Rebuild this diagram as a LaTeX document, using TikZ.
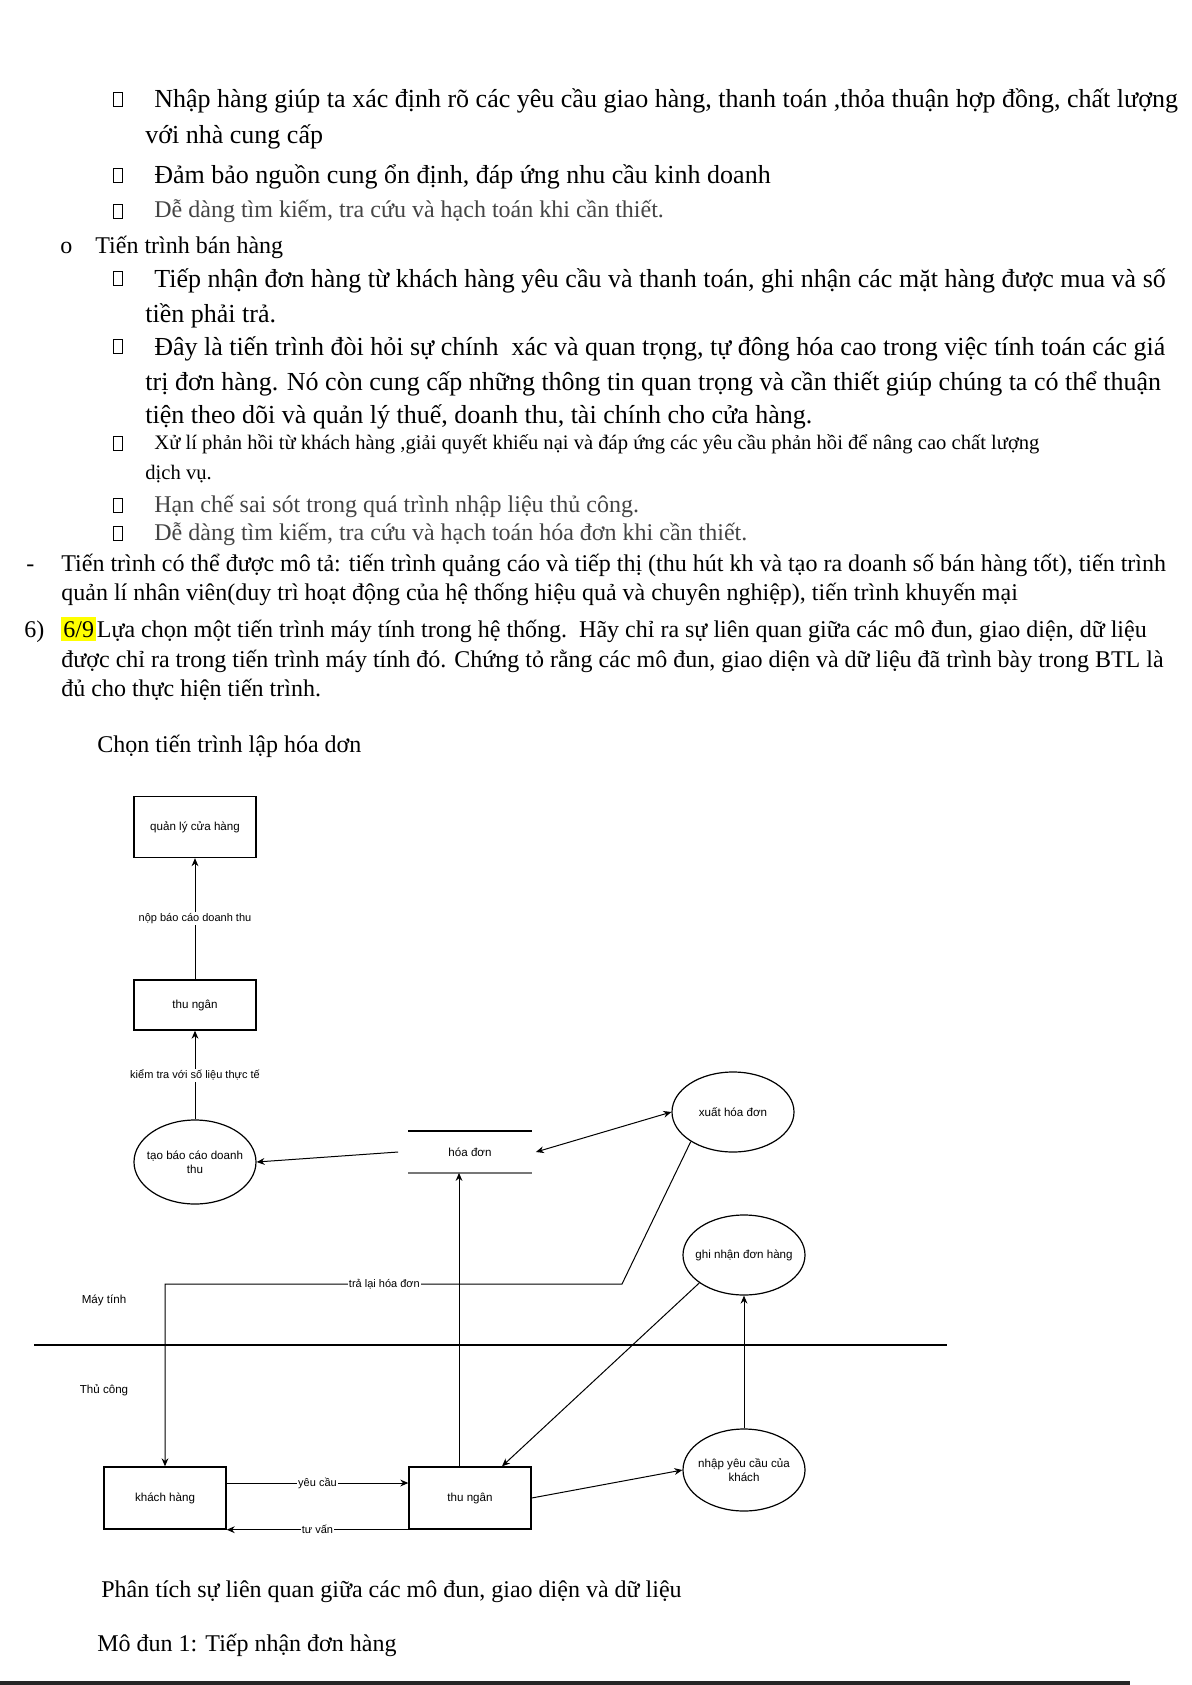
\documentclass[tikz,border=0pt]{standalone}
\usepackage{fontspec}
\setmainfont{Liberation Serif}
\newfontfamily\drawfont{Liberation Sans}
\usetikzlibrary{arrows.meta,positioning,shapes.geometric}
\definecolor{muted}{HTML}{444444}
\definecolor{mark}{HTML}{FFFF00}
\definecolor{rule}{HTML}{777777}

\begin{document}
\begin{tikzpicture}[
  x=0.5pt, y=-0.5pt,
  para/.style={anchor=base west, inner sep=0pt, font=\fontsize{12}{14}\selectfont},
  bigpara/.style={para, font=\fontsize{13}{15}\selectfont},
  dimpara/.style={para, text=muted, font=\fontsize{12}{14}\selectfont},
  tinypara/.style={para, font=\fontsize{10.3}{12}\selectfont},
  tofu/.style={draw, line width=0.45pt, minimum width=4.5pt, minimum height=7pt, inner sep=0pt},
  entity/.style={draw, line width=0.7pt, minimum width=61pt, inner sep=1pt,
    font=\drawfont\fontsize{5.8}{7}\selectfont},
  process/.style={ellipse, draw, line width=0.6pt, minimum width=61pt,
    minimum height=40pt, inner xsep=-4pt, inner ysep=0pt, align=center,
    font=\drawfont\fontsize{5.8}{7}\selectfont},
  store/.style={minimum width=61.5pt, minimum height=20.5pt, inner sep=0pt,
    font=\drawfont\fontsize{5.8}{7}\selectfont},
  side/.style={font=\drawfont\fontsize{5.8}{7}\selectfont},
  lbl/.style={fill=white, inner sep=0.6pt, font=\drawfont\fontsize{5.5}{6}\selectfont},
  arr/.style={-{Stealth[length=4pt, width=3.4pt]}, line width=0.5pt}
]
  \useasboundingbox (0,0) rectangle (1191,1685);

  % page text above the diagram
  \node[tofu] (b1) at (118,99) {};
  \node[bigpara] (t1) at (154,108) {Nhập hàng giúp ta xác định rõ các yêu cầu giao hàng, thanh toán ,thỏa thuận hợp đồng, chất lượng};
  \node[bigpara] (t2) at (145,144) {với nhà cung cấp};
  \node[tofu] (b2) at (118,175) {};
  \node[bigpara] (t3) at (154,184) {Đảm bảo nguồn cung ổn định, đáp ứng nhu cầu kinh doanh};
  \node[tofu] (b3) at (118,211) {};
  \node[dimpara] (t4) at (154,218) {Dễ dàng tìm kiếm, tra cứu và hạch toán khi cần thiết.};
  \node[para] (o1) at (60,254) {o};
  \node[para] (t5) at (95,254) {Tiến trình bán hàng};
  \node[tofu] (b4) at (118,278) {};
  \node[bigpara] (t6) at (154,287) {Tiếp nhận đơn hàng từ khách hàng yêu cầu và thanh toán, ghi nhận các mặt hàng được mua và số};
  \node[bigpara] (t7) at (145,322) {tiền phải trả.};
  \node[tofu] (b5) at (118,346) {};
  \node[bigpara] (t8) at (154,355) {Đây là tiến trình đòi hỏi sự chính\ \ xác và quan trọng, tự đông hóa cao trong việc tính toán các giá};
  \node[bigpara] (t9) at (145,390) {trị đơn hàng. Nó còn cung cấp những thông tin quan trọng và cần thiết giúp chúng ta có thể thuận};
  \node[bigpara] (t10) at (145,423) {tiện theo dõi và quản lý thuế, doanh thu, tài chính cho cửa hàng.};
  \node[tofu] (b6) at (118,443) {};
  \node[tinypara] (t11) at (154,449) {Xử lí phản hồi từ khách hàng ,giải quyết khiếu nại và đáp ứng các yêu cầu phản hồi để nâng cao chất lượng};
  \node[tinypara] (t12) at (145,479) {dịch vụ.};
  \node[tofu] (b7) at (118,505) {};
  \node[dimpara] (t13) at (154,512) {Hạn chế sai sót trong quá trình nhập liệu thủ công.};
  \node[tofu] (b8) at (118,533) {};
  \node[dimpara] (t14) at (154,540) {Dễ dàng tìm kiếm, tra cứu và hạch toán hóa đơn khi cần thiết.};
  \node[para] (d1) at (26,571) {-};
  \node[para] (t15) at (61,571) {Tiến trình có thể được mô tả: tiến trình quảng cáo và tiếp thị (thu hút kh và tạo ra doanh số bán hàng tốt), tiến trình};
  \node[para] (t16) at (61,600) {quản lí nhân viên(duy trì hoạt động của hệ thống hiệu quả và chuyên nghiệp), tiến trình khuyến mại};
  \node[para] (q6) at (24,637) {6)};
  \node[para, fill=mark, inner xsep=1pt, inner ysep=2pt] (hl) at (61,637) {6/9};
  \node[para, anchor=base west] (t17) at (hl.base east) {Lựa chọn một tiến trình máy tính trong hệ thống.\ \ Hãy chỉ ra sự liên quan giữa các mô đun, giao diện, dữ liệu};
  \node[para] (t18) at (61,667) {được chỉ ra trong tiến trình máy tính đó. Chứng tỏ rằng các mô đun, giao diện và dữ liệu đã trình bày trong BTL là};
  \node[para] (t19) at (61,696) {đủ cho thực hiện tiến trình.};
  \node[para] (cap) at (97,752) {Chọn tiến trình lập hóa dơn};

  % diagram: entities, processes and store
  \node[entity, minimum height=30.5pt] (ql) at (195,827) {quản lý cửa hàng};
  \node[entity, minimum height=25pt] (tn1) at (195,1005) {thu ngân};
  \node[process, minimum height=42pt] (tbc) at (195,1162) {tạo báo cáo doanh\\thu};
  \node[store] (hd) at (470,1152) {hóa đơn};
  \node[process] (xhd) at (733,1112) {xuất hóa đơn};
  \node[process] (gn) at (744,1255) {ghi nhận đơn hàng};
  \node[process, minimum height=41pt] (nyc) at (744,1470) {nhập yêu cầu của\\khách};
  \node[entity, minimum height=31pt] (kh) at (165,1498) {khách hàng};
  \node[entity, minimum height=31pt] (tn2) at (470,1498) {thu ngân};
  \node[side] (mt) at (104,1300) {Máy tính};
  \node[side] (tc) at (104,1390) {Thủ công};

  \draw[line width=0.7pt] (hd.north west) -- (hd.north east);
  \draw[line width=0.7pt, rule] (hd.south west) -- (hd.south east);
  \draw[line width=0.7pt] (34,1345) -- (947,1345);

  % flows
  \draw[arr] (tn1) -- node[lbl]{nộp báo cáo doanh thu} (ql);
  \draw[arr] (tbc) -- node[lbl]{kiểm tra với số liệu thực tế} (tn1);
  \draw[arr] ([xshift=-5pt]hd.west) -- (tbc.east);
  \draw[{Stealth[length=4pt, width=3.4pt]}-{Stealth[length=4pt, width=3.4pt]}, line width=0.5pt]
    ([xshift=2pt]hd.east) -- (xhd.west);
  \coordinate (bend) at (622,1284);
  \draw[arr] (xhd.215) -- (bend) -| node[lbl, pos=0.26]{trả lại hóa đơn} (kh.north);
  \draw[arr] ([xshift=-5.5pt]tn2.north) -- ([xshift=-5.5pt]hd.south);
  \draw[arr] (gn.212) -- ([xshift=16pt]tn2.north);
  \draw[arr] (nyc) -- (gn);
  \draw[arr] (tn2.east) -- (nyc.west);
  \draw[arr] ([yshift=7.5pt]kh.east) -- node[lbl]{yêu cầu} ([yshift=7.5pt]tn2.west);
  \draw[arr] (tn2.south west) -- node[lbl]{tư vấn} (kh.south east);

  % page text below the diagram
  \node[para] (t20) at (101,1597) {Phân tích sự liên quan giữa các mô đun, giao diện và dữ liệu};
  \node[para] (t21) at (97,1651) {Mô đun 1: Tiếp nhận đơn hàng};
  \draw[line width=1.6pt, black!85] (0,1683) -- (1130,1683);
\end{tikzpicture}
\end{document}
